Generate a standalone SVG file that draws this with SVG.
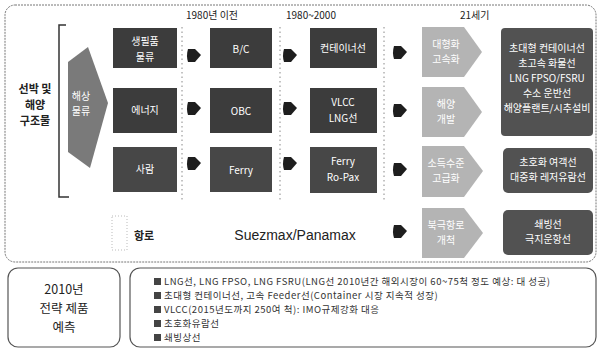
<svg xmlns="http://www.w3.org/2000/svg" width="601" height="354" viewBox="0 0 601 354">
<defs>
<style>
.t{font-family:"Noto Sans CJK KR","Liberation Sans",sans-serif;}
.w{fill:#fff;font-size:10px;text-anchor:middle;font-family:"Noto Sans CJK KR","Liberation Sans",sans-serif;}
.box1{fill:#3c3c3c;}
.box2{fill:#474747;}
.pent{fill:#b4b4b4;}
.rbox{fill:#525252;}
.div{stroke:#888;stroke-width:1;stroke-dasharray:1.5 3;fill:none;}
.hdr{font-size:10px;fill:#222;font-family:"Noto Sans CJK KR","Liberation Sans",sans-serif;}
.li{font-size:9.5px;letter-spacing:0.5px;fill:#333;font-family:"Noto Sans CJK KR","Liberation Sans",sans-serif;}
.chk{fill:#444;}
</style>
<path id="ar" d="M-6,-6 L1,-6 L7,0 L1,7 L-6,7 Q-8,0.5 -6,-6 Z" fill="#1e1e1e"/>
</defs>
<rect x="0" y="0" width="601" height="354" fill="#fff"/>
<!-- outer frame -->
<rect x="5" y="5" width="591" height="257" rx="10" fill="none" stroke="#777" stroke-width="1" stroke-dasharray="2 1"/>
<!-- bracket -->
<path d="M66,25 L59,25 L59,197 L69,197" fill="none" stroke="#333" stroke-width="1.5"/>
<g id="title">
<text class="t" x="35" y="93" font-size="11" font-weight="bold" text-anchor="middle" fill="#222">선박 및</text>
<text class="t" x="35" y="109" font-size="11" font-weight="bold" text-anchor="middle" fill="#222">해양</text>
<text class="t" x="35" y="125" font-size="11" font-weight="bold" text-anchor="middle" fill="#222">구조물</text>
</g>
<g id="bigarrow">
<path d="M68,62 L88,47 L108,103 L90,168 L68,152 Z" fill="#7a7a7a"/>
<text class="w" x="81" y="100">해상</text>
<text class="w" x="81" y="115">물류</text>
</g>
<!-- headers -->
<text class="hdr" x="186" y="19">1980년 이전</text>
<text class="hdr" x="286" y="19">1980~2000</text>
<text class="hdr" x="460" y="19">21세기</text>
<!-- dividers -->
<line class="div" x1="182" y1="27" x2="182" y2="200"/>
<line class="div" x1="280" y1="27" x2="280" y2="200"/>
<line class="div" x1="384" y1="27" x2="384" y2="200"/>
<!-- column 0 -->
<g id="n-living"><rect class="box1" x="113" y="28" width="64" height="40"/><text class="w" x="145" y="45" font-size="11">생필품</text><text class="w" x="145" y="61" font-size="11">물류</text></g>
<g id="n-energy"><rect class="box1" x="113" y="88" width="64" height="45"/><text class="w" x="145" y="114" font-size="11">에너지</text></g>
<g id="n-people"><rect class="box2" x="113" y="147" width="64" height="45"/><text class="w" x="145" y="173" font-size="11">사람</text></g>
<!-- column 1 -->
<g id="n-bc"><rect class="box1" x="210" y="28" width="62" height="40"/><text class="w" x="241" y="53" font-size="12">B/C</text></g>
<g id="n-obc"><rect class="box1" x="210" y="88" width="62" height="45"/><text class="w" x="241" y="115" font-size="12">OBC</text></g>
<g id="n-ferry"><rect class="box2" x="210" y="147" width="62" height="45"/><text class="w" x="241" y="174" font-size="12">Ferry</text></g>
<!-- column 2 -->
<g id="n-container"><rect class="box1" x="310" y="28" width="67" height="40"/><text class="w" x="343" y="52" font-size="11">컨테이너선</text></g>
<g id="n-vlcc"><rect class="box1" x="310" y="88" width="67" height="45"/><text class="w" x="343" y="106" font-size="11">VLCC</text><text class="w" x="343" y="122" font-size="11">LNG선</text></g>
<g id="n-ropax"><rect class="box2" x="310" y="147" width="67" height="46"/><text class="w" x="343" y="165" font-size="11">Ferry</text><text class="w" x="343" y="181" font-size="11">Ro-Pax</text></g>
<!-- pentagons -->
<g id="p1"><path class="pent" d="M422,27 L464,27 L482,52 L464,77 L422,77 Z"/><text class="w" x="446" y="48">대형화</text><text class="w" x="446" y="63">고속화</text></g>
<g id="p2"><path class="pent" d="M422,87 L464,87 L482,112 L464,137 L422,137 Z"/><text class="w" x="446" y="108">해양</text><text class="w" x="446" y="123">개발</text></g>
<g id="p3"><path class="pent" d="M422,146 L464,146 L483,171 L464,197 L422,197 Z"/><text class="w" x="446" y="167">소득수준</text><text class="w" x="446" y="182">고급화</text></g>
<g id="p4"><path class="pent" d="M422,208 L464,208 L483,233 L464,258 L422,258 Z"/><text class="w" x="446" y="229">북극항로</text><text class="w" x="446" y="244">개척</text></g>
<!-- right boxes -->
<g id="r1"><rect class="rbox" x="501" y="28" width="92" height="108" rx="4"/>
<text class="w" x="547" y="52">초대형 컨테이너선</text>
<text class="w" x="547" y="67">초고속 화물선</text>
<text class="w" x="547" y="82">LNG FPSO/FSRU</text>
<text class="w" x="547" y="97">수소 운반선</text>
<text class="w" x="547" y="112" font-size="9">해양플랜트/시추설비</text></g>
<g id="r2"><rect class="rbox" x="503" y="148" width="90" height="45" rx="5"/><text class="w" x="548" y="166">초호화 여객선</text><text class="w" x="548" y="181" font-size="9.5">대중화 레저유람선</text></g>
<g id="r3"><rect class="rbox" x="503" y="210" width="90" height="45" rx="5"/><text class="w" x="548" y="228">쇄빙선</text><text class="w" x="548" y="243">극지운항선</text></g>
<!-- route legend -->
<g id="route">
<rect x="112" y="216" width="15" height="34" fill="none" stroke="#bbb" stroke-width="1" stroke-dasharray="1 2"/>
<text class="t" x="134" y="240" font-size="11" font-weight="bold" fill="#222">항로</text>
<text x="295" y="240" font-size="14" text-anchor="middle" fill="#222" font-family="Liberation Sans, Arial, sans-serif">Suezmax/Panamax</text>
</g>
<g id="connectors">
<use href="#ar" x="194" y="55"/><use href="#ar" x="194" y="108"/><use href="#ar" x="194" y="163"/>
<use href="#ar" x="290" y="55"/><use href="#ar" x="290" y="108"/><use href="#ar" x="290" y="163"/>
<use href="#ar" x="400" y="52"/><use href="#ar" x="400" y="110"/><use href="#ar" x="400" y="169"/><use href="#ar" x="400" y="231"/>
</g>
<!-- bottom -->
<g id="forecast">
<rect x="8" y="268" width="112" height="79" rx="10" fill="#fff" stroke="#555" stroke-width="1.2"/>
<text class="t" x="64" y="294" font-size="12.5" text-anchor="middle" fill="#222">2010년</text>
<text class="t" x="64" y="313" font-size="12.5" text-anchor="middle" fill="#222">전략 제품</text>
<text class="t" x="64" y="332" font-size="12.5" text-anchor="middle" fill="#222">예측</text>
</g>
<g id="list">
<rect x="130" y="268" width="466" height="79" rx="10" fill="#fff" stroke="#555" stroke-width="1.2"/>
<rect class="chk" x="154" y="278" width="7" height="7"/>
<text class="li" x="164" y="285">LNG선, LNG FPSO, LNG FSRU(LNG선 2010년간 해외시장이 60~75척 정도 예상: 대 성공)</text>
<rect class="chk" x="154" y="292" width="7" height="7"/>
<text class="li" x="164" y="299">초대형 컨테이너선, 고속 Feeder선(Container 시장 지속적 성장)</text>
<rect class="chk" x="154" y="306" width="7" height="7"/>
<text class="li" x="164" y="313">VLCC(2015년도까지 250여 척): IMO규제강화 대응</text>
<rect class="chk" x="154" y="320" width="7" height="7"/>
<text class="li" x="164" y="327">초호화유람선</text>
<rect class="chk" x="154" y="334" width="7" height="7"/>
<text class="li" x="164" y="341">쇄빙상선</text>
</g>
</svg>
